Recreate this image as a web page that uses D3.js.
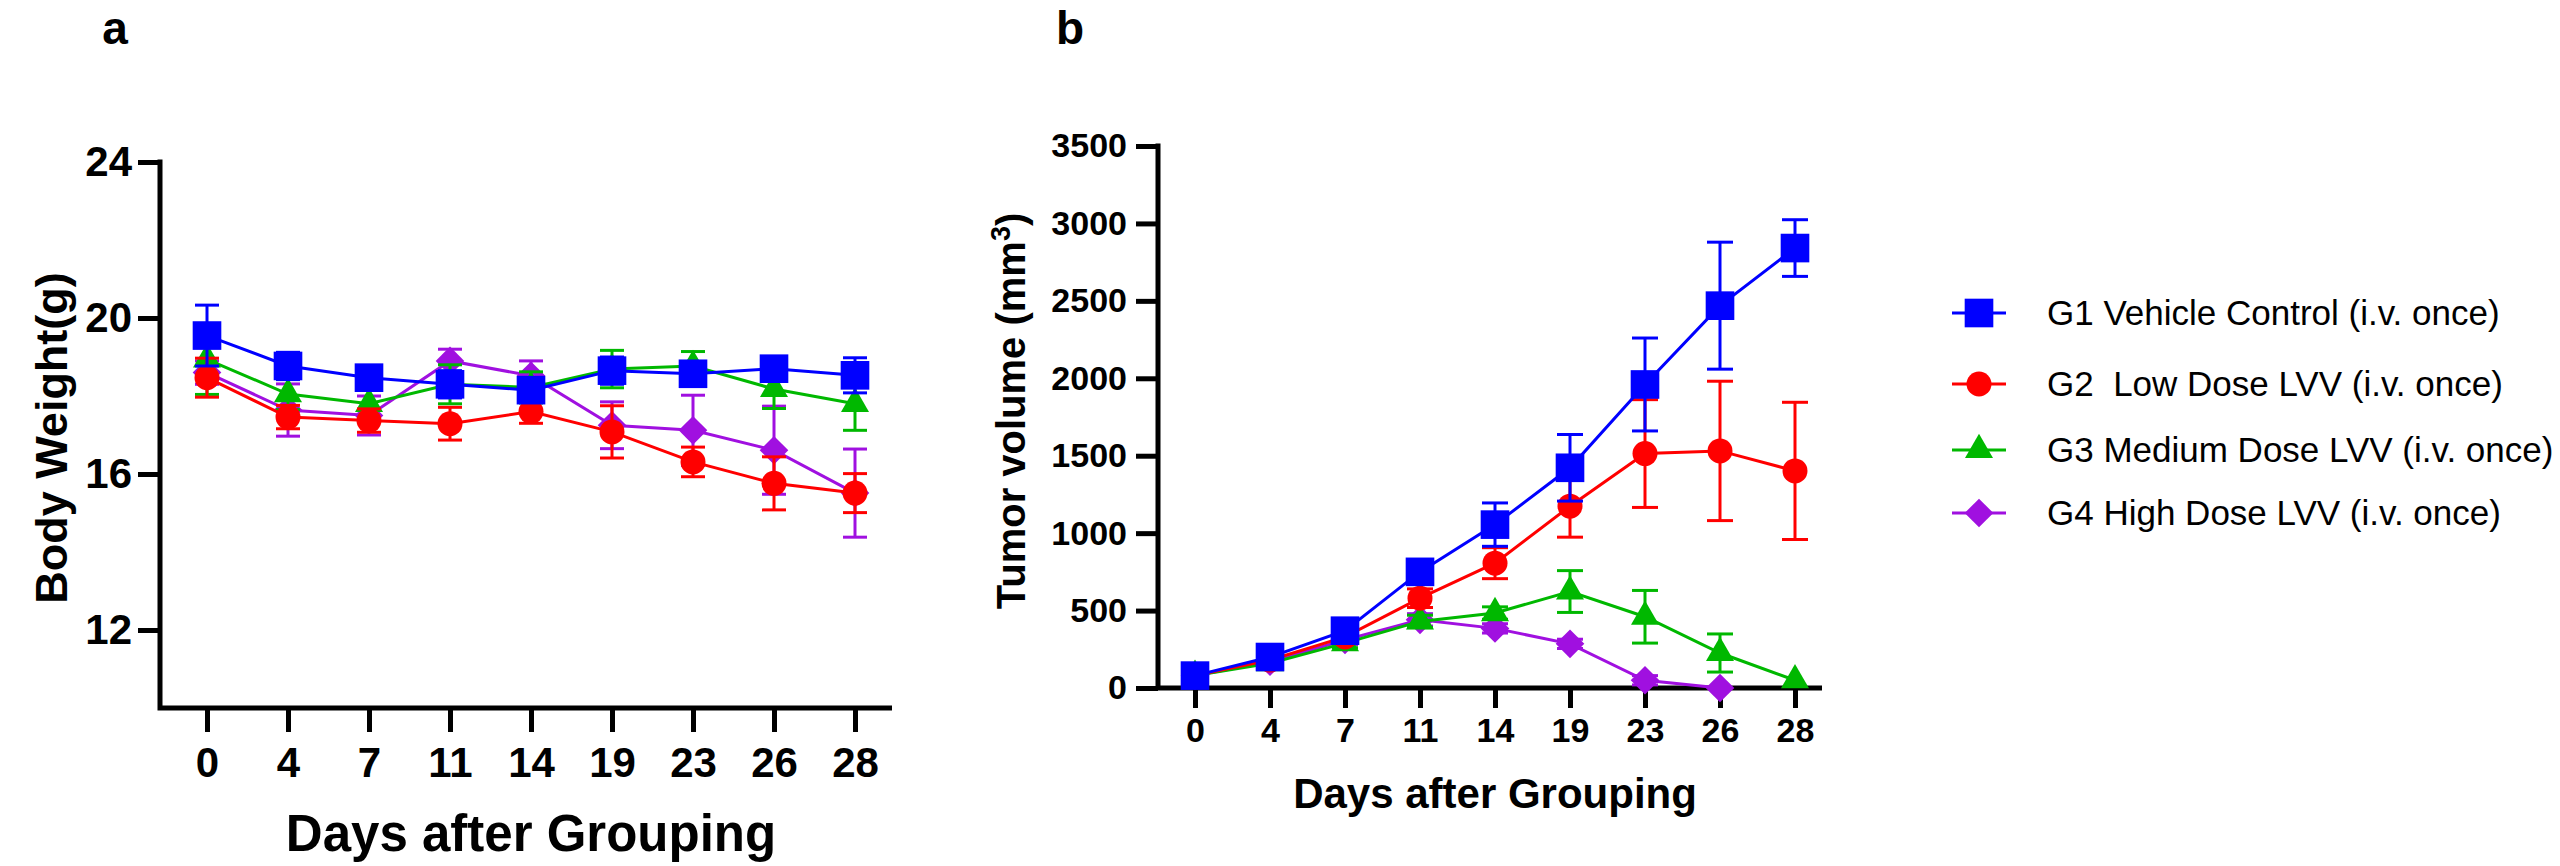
<!DOCTYPE html>
<html>
<head>
<meta charset="utf-8">
<script src="https://cdn.jsdelivr.net/npm/d3@7"></script>
<style>
  body { margin: 0; background: #fff; }
  svg text { font-family: "Liberation Sans", Arial, sans-serif; fill: #000; }
</style>
</head>
<body>
<div id="chart"></div>
<script>
// ---- data ----
const days = ['0', '4', '7', '11', '14', '19', '23', '26', '28'];
const groupNames = [
  'G1 Vehicle Control (i.v. once)',
  'G2  Low Dose LVV (i.v. once)',
  'G3 Medium Dose LVV (i.v. once)',
  'G4 High Dose LVV (i.v. once)'
];
const groupColors = ['#0000ff', '#ff0000', '#00b800', '#a010e0'];
const groupSymbols = ['square', 'circle', 'triangle', 'diamond'];

// body weight (g): mean and error
const bwG1 = [19.55, 18.77, 18.47, 18.30, 18.15, 18.65, 18.57, 18.70, 18.53];
const bwG1Err = [0.78, 0.35, 0.25, 0.35, 0.25, 0.35, 0.30, 0.30, 0.45];
const bwG2 = [18.47, 17.46, 17.37, 17.29, 17.60, 17.08, 16.31, 15.76, 15.51];
const bwG2Err = [0.50, 0.30, 0.30, 0.42, 0.30, 0.67, 0.38, 0.68, 0.50];
const bwG3 = [18.94, 18.05, 17.80, 18.30, 18.22, 18.69, 18.77, 18.18, 17.80];
const bwG3Err = [0.90, 0.40, 0.40, 0.50, 0.40, 0.48, 0.37, 0.50, 0.68];
const bwG4 = [18.60, 17.64, 17.50, 18.90, 18.52, 17.25, 17.12, 16.61, 15.51];
const bwG4Err = [0.30, 0.67, 0.50, 0.30, 0.38, 0.60, 0.90, 1.13, 1.13];

// tumor volume (mm3): mean and error
const tvG1 = [80, 200, 370, 750, 1055, 1422, 1960, 2469, 2841];
const tvG1Err = [20, 30, 40, 45, 140, 215, 300, 410, 183];
const tvG2 = [80, 180, 330, 580, 806, 1174, 1514, 1531, 1402];
const tvG2Err = [15, 25, 35, 60, 100, 200, 348, 450, 443];
const tvG3 = [80, 160, 290, 430, 484, 623, 460, 226, 50];
const tvG3Err = [15, 20, 30, 40, 40, 135, 170, 123, 0];
const tvG4 = [80, 170, 310, 440, 385, 285, 50, 0, null];
const tvG4Err = [15, 20, 30, 40, 30, 30, 30, 0, null];

const bwTicks = [12, 16, 20, 24];
const tvTicks = [0, 500, 1000, 1500, 2000, 2500, 3000, 3500];

const bwSeries = [[bwG1, bwG1Err], [bwG2, bwG2Err], [bwG3, bwG3Err], [bwG4, bwG4Err]];
const tvSeries = [[tvG1, tvG1Err], [tvG2, tvG2Err], [tvG3, tvG3Err], [tvG4, tvG4Err]];

// ---- drawing ----
const W = 2560, H = 866;
const svg = d3.select('#chart').append('svg').attr('width', W).attr('height', H);

const symbolPath = {
  square: d3.symbol().type(d3.symbolSquare).size(820)(),
  circle: d3.symbol().type(d3.symbolCircle).size(490)(),
  triangle: d3.symbol().type(d3.symbolTriangle).size(340)(),
  diamond: d3.symbol().type(d3.symbolSquare).size(410)()
};
function marker(sel, i) {
  sel.attr('d', symbolPath[groupSymbols[i]])
    .attr('fill', groupColors[i]);
}

function drawPanel(cfg) {
  const g = svg.append('g');
  const x = d3.scalePoint().domain(days).range(cfg.xRange);
  const y = d3.scaleLinear().domain(cfg.yDomain).range(cfg.yRange);

  // axes
  const yAxis = g.append('g').attr('transform', `translate(${cfg.left},0)`)
    .call(d3.axisLeft(y).tickValues(cfg.yTicks).tickFormat(d3.format('d'))
      .tickSize(cfg.yTick).tickPadding(cfg.yPad).tickSizeOuter(0));
  yAxis.select('.domain').remove();
  yAxis.selectAll('line').attr('stroke', '#000').attr('stroke-width', 5);
  yAxis.selectAll('text').attr('font-size', cfg.tickFont).attr('font-weight', 'bold').attr('fill', '#000');

  const xAxis = g.append('g').attr('transform', `translate(0,${cfg.yRange[0]})`)
    .call(d3.axisBottom(x).tickSize(cfg.xTick).tickPadding(cfg.xPad).tickSizeOuter(0));
  xAxis.select('.domain').remove();
  xAxis.selectAll('line').attr('stroke', '#000').attr('stroke-width', 5);
  xAxis.selectAll('text').attr('font-size', cfg.tickFont).attr('font-weight', 'bold').attr('fill', '#000');

  g.append('path')
    .attr('d', `M${cfg.left},${cfg.yRange[1] - 2.5}V${cfg.yRange[0]}H${cfg.xEnd}`)
    .attr('fill', 'none').attr('stroke', '#000').attr('stroke-width', 5);

  // series, drawn back to front so G1 sits on top
  for (let i = cfg.series.length - 1; i >= 0; i--) {
    const [vals, errs] = cfg.series[i];
    const pts = days.map((d, k) => ({ d, v: vals[k], e: errs[k] })).filter(p => p.v != null);
    const col = groupColors[i];
    const sg = g.append('g');

    sg.append('path').datum(pts)
      .attr('d', d3.line().x(p => x(p.d)).y(p => y(p.v)))
      .attr('fill', 'none').attr('stroke', col).attr('stroke-width', 3);

    const eb = sg.selectAll('.eb').data(pts.filter(p => p.e > 0)).join('g')
      .attr('stroke', col).attr('stroke-width', 3);
    eb.append('line')
      .attr('x1', p => x(p.d)).attr('x2', p => x(p.d))
      .attr('y1', p => y(p.v - p.e)).attr('y2', p => y(p.v + p.e));
    eb.append('line')
      .attr('x1', p => x(p.d) - cfg.cap).attr('x2', p => x(p.d) + cfg.cap)
      .attr('y1', p => y(p.v + p.e)).attr('y2', p => y(p.v + p.e));
    eb.append('line')
      .attr('x1', p => x(p.d) - cfg.cap).attr('x2', p => x(p.d) + cfg.cap)
      .attr('y1', p => y(p.v - p.e)).attr('y2', p => y(p.v - p.e));

    sg.selectAll('.pt').data(pts).join('path')
      .call(marker, i)
      .attr('transform', p => `translate(${x(p.d)},${y(p.v)})${groupSymbols[i] === 'diamond' ? ' rotate(45)' : ''}`);
  }

  // titles
  g.append('text').attr('x', (cfg.xRange[0] + cfg.xRange[1]) / 2).attr('y', cfg.xTitleY)
    .attr('text-anchor', 'middle').attr('font-size', cfg.xTitleFont).attr('font-weight', 'bold')
    .text('Days after Grouping');
  const yt = g.append('text')
    .attr('transform', `translate(${cfg.yTitleX},${cfg.yTitleY}) rotate(-90)`)
    .attr('text-anchor', 'middle').attr('font-size', cfg.yTitleFont).attr('font-weight', 'bold');
  cfg.yTitle(yt);

  g.append('text').attr('x', cfg.labelX).attr('y', cfg.labelY)
    .attr('text-anchor', 'middle').attr('font-size', 46).attr('font-weight', 'bold')
    .text(cfg.label);
}

drawPanel({
  series: bwSeries,
  left: 160, xRange: [207, 855], xEnd: 892,
  yDomain: [10, 24], yRange: [708, 162], yTicks: bwTicks,
  yTick: 22, yPad: 6, xTick: 24, xPad: 15, tickFont: 42, cap: 12,
  xTitleY: 851, xTitleFont: 51,
  yTitleX: 67, yTitleY: 438, yTitleFont: 45,
  yTitle: t => t.text('Body Weight(g)'),
  label: 'a', labelX: 115, labelY: 44
});

drawPanel({
  series: tvSeries,
  left: 1158, xRange: [1195, 1795], xEnd: 1822,
  yDomain: [0, 3500], yRange: [688, 146], yTicks: tvTicks,
  yTick: 22, yPad: 9, xTick: 20, xPad: 10, tickFont: 34, cap: 13,
  xTitleY: 808, xTitleFont: 42,
  yTitleX: 1025, yTitleY: 411, yTitleFont: 40,
  yTitle: t => {
    t.append('tspan').text('Tumor volume (mm');
    t.append('tspan').attr('dy', -15).attr('font-size', 27).text('3');
    t.append('tspan').attr('dy', 15).text(')');
  },
  label: 'b', labelX: 1070, labelY: 44
});

// legend
const legendY = [313, 384, 450, 513];
const lg = svg.append('g');
groupNames.forEach((name, i) => {
  const row = lg.append('g').attr('transform', `translate(1979,${legendY[i]})`);
  row.append('line').attr('x1', -27).attr('x2', 27)
    .attr('stroke', groupColors[i]).attr('stroke-width', 3);
  row.append('path').call(marker, i)
    .attr('transform', groupSymbols[i] === 'diamond' ? 'rotate(45)' : null);
  row.append('text').attr('x', 68).attr('dy', '0.35em')
    .attr('font-size', 35).attr('xml:space', 'preserve').style('white-space', 'pre')
    .text(name);
});
</script>
</body>
</html>
